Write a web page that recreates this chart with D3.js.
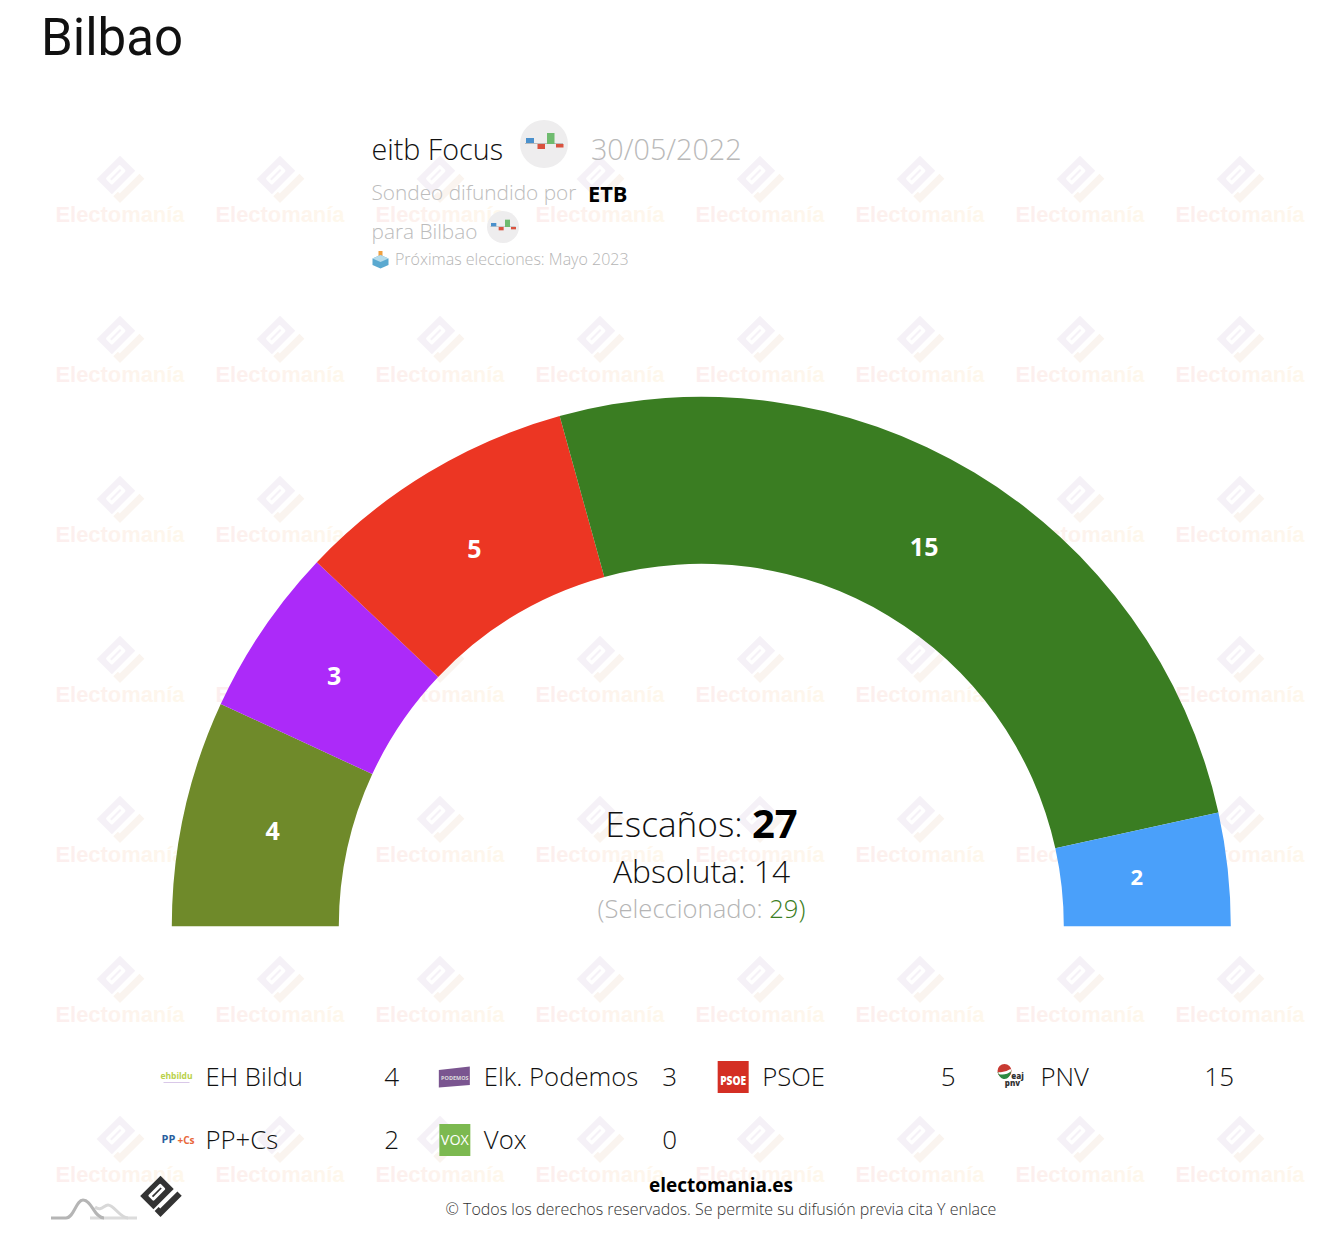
<!DOCTYPE html>
<html><head><meta charset="utf-8">
<script src="https://cdn.jsdelivr.net/npm/d3@7"></script>
<style>html,body{margin:0;padding:0;background:#fff}svg{display:block}text{font-family:"Open Sans",sans-serif;font-weight:300}</style>
</head><body><svg id="c" width="1324" height="1244"></svg>
<script>
const parties=["EH Bildu","Elk. Podemos","PSOE","PNV","PP+Cs","Vox"];
const seats=[4,3,5,15,2,0];
const colors=["#6f8a2a","#ac2af9","#ec3623","#3a7d22","#4aa0fa","#7cb950"];
const legendColumns=[0,1,2,3];
const legendRows=[0,1];
const wmColumns=[120,280,440,600,760,920,1080,1240];
const wmRows=[180,340,500,660,820,980,1140];
const totalSeats=27, majority=14, selected=29;

const W=1324,cx=701.3,cy=926.3,rO=529.5,rI=362.5;
const svg=d3.select("#c");
const defs=svg.append("defs");
const lg=defs.append("linearGradient").attr("id","wmg");
lg.append("stop").attr("offset","0").attr("stop-color","#fceeee");
lg.append("stop").attr("offset","1").attr("stop-color","#fef8ec");

// watermark
function markIcon(g,c1,c2,slot){
  const r=g.append("g").attr("transform","rotate(-45)");
  r.append("rect").attr("x",-16.5).attr("y",-16.5).attr("width",33).attr("height",21.5).attr("fill",c1);
  r.append("rect").attr("x",-10).attr("y",-10.5).attr("width",20).attr("height",9).attr("rx",1.5).attr("fill",slot);
  r.append("rect").attr("x",-7).attr("y",-7).attr("width",14).attr("height",2).attr("fill",c1);
  r.append("path").attr("d","M17.5 10H-10.5V7.5H-17V17H17.5Z").attr("fill",c2);
}
const wm=svg.append("g");
wmRows.forEach(y=>wmColumns.forEach(x=>{
  markIcon(wm.append("g").attr("transform",`translate(${x},${y-1})`),"#f5f1f7","#faf4ef","#fff");
  wm.append("text").attr("x",x).attr("y",y+42).attr("text-anchor","middle")
    .style("font-family","'Liberation Sans',sans-serif").style("font-weight",700).style("font-size","21.9px")
    .attr("fill","url(#wmg)").text("Electomanía");
}));

// title
svg.append("text").attr("x",41).attr("y",55).style("font-family","Roboto,sans-serif").style("font-weight",400).style("font-size","51px").attr("fill","#111").text("Bilbao");

function pollIcon(g,r){
  const s=r/24;
  g.append("circle").attr("r",r).attr("fill","#eeedee");
  const b=g.append("g").attr("transform",`scale(${s})`);
  b.append("rect").attr("x",-19).attr("y",-1).attr("width",38).attr("height",1).attr("fill","#bbb");
  b.append("rect").attr("x",-18).attr("y",-6).attr("width",8).attr("height",5).attr("fill","#4a90cc");
  b.append("rect").attr("x",-6.5).attr("y",0).attr("width",7.5).attr("height",5).attr("fill","#d9523f");
  b.append("rect").attr("x",3).attr("y",-11).attr("width",7.5).attr("height",11).attr("fill","#6fbb6f");
  b.append("rect").attr("x",12).attr("y",0).attr("width",7.5).attr("height",3.5).attr("fill","#d9523f");
}
function txt(x,y,size,fill,t,o={}){
  return svg.append("text").attr("x",x).attr("y",y).style("font-size",size+"px").attr("fill",fill)
    .attr("text-anchor",o.anchor||"start").style("font-weight",o.weight||300).text(t);
}
// header
txt(371.5,160,28.7,"#111","eitb Focus");
pollIcon(svg.append("g").attr("transform","translate(544,144)"),24);
txt(591,160,28.7,"#b9b9b9","30/05/2022");
txt(371.5,199.5,20.8,"#bcbcbc","Sondeo difundido por");
txt(588,202,21.8,"#000","ETB",{weight:700});
txt(371.5,239,20.8,"#bcbcbc","para Bilbao");
pollIcon(svg.append("g").attr("transform","translate(503,227)"),16);
txt(395,265,16,"#b5b5b5","Próximas elecciones: Mayo 2023");
const box=svg.append("g").attr("transform","translate(380.5,260)");
box.append("rect").attr("x",-2).attr("y",-9).attr("width",4).attr("height",6).attr("fill","#f0a040");
box.append("path").attr("d","M0 -5L8 -1.5V5L0 8.5L-8 5V-1.5Z").attr("fill","#5aa9d0");
box.append("path").attr("d","M0 -5L8 -1.5L0 2L-8 -1.5Z").attr("fill","#b5dcec");

// arc
const pie=d3.pie().value(d=>d).sort(null).startAngle(-Math.PI/2).endAngle(Math.PI/2);
const arc=d3.arc().innerRadius(rI).outerRadius(rO);
const labelArc=d3.arc().innerRadius(440).outerRadius(440);
const nudgeX=[1,-3,0,-4,-2], nudgeY=[-1,-3,0,-2.5,-1.5];
const ch=svg.append("g").attr("transform",`translate(${cx},${cy})`);
const arcs=pie(seats);
ch.selectAll("path").data(arcs).join("path").attr("d",arc).attr("fill",(d,i)=>colors[i]);
ch.selectAll("text").data(arcs.filter(d=>d.value>0)).join("text")
  .attr("transform",(d,i)=>{const c=labelArc.centroid(d);return `translate(${c[0]+nudgeX[i]},${c[1]+nudgeY[i]})`;})
  .attr("text-anchor","middle").attr("dy","0.36em")
  .attr("fill","#fff").style("font-weight",700).style("font-size",d=>d.value==2?"22px":"25px").text(d=>d.value);

// centre
const c1=txt(701.5,837,35.2,"#111","Escaños: ",{anchor:"middle"});
c1.append("tspan").style("font-weight",700).style("font-size","40px").attr("dy",1).attr("fill","#000").text(totalSeats);
txt(701.5,883,31.8,"#111","Absoluta: "+majority,{anchor:"middle"});
const c3=txt(701.5,918,25.6,"#b5b5b5","(Seleccionado: ",{anchor:"middle"});
c3.append("tspan").attr("fill","#3a7d22").text(selected);
c3.append("tspan").attr("fill","#3a7d22").text(")");

// legend
const xCol=d3.scaleLinear().domain([0,3]).range([205.5,1040.5]);
const yRow=d3.scaleLinear().domain([0,1]).range([1086,1149]);
const valX=[399,677,955.5,1234];
const logos=[
 g=>{g.append("text").attr("x",0).attr("y",2).attr("text-anchor","middle").style("font-size","8.5px").style("font-weight",700).attr("fill","#b9d14a").text("ehbildu");
     g.append("rect").attr("x",-13).attr("y",5).attr("width",26).attr("height",1).attr("fill","#d9c8e8");},
 g=>{g.append("path").attr("d","M-16 -7L15 -10.5V8L-16 10.5Z").attr("fill","#7a5590");
     g.append("text").attr("x",0).attr("y",3).attr("text-anchor","middle").style("font-size","5.5px").style("font-weight",700).attr("fill","#ddd").text("PODEMOS");},
 g=>{g.append("rect").attr("x",-15.5).attr("y",-16).attr("width",31).attr("height",32).attr("fill","#d42f24");
     g.append("text").attr("x",0).attr("y",8).attr("text-anchor","middle").attr("textLength",26).attr("lengthAdjust","spacingAndGlyphs").style("font-size","12px").style("font-weight",800).attr("fill","#fff").text("PSOE");},
 g=>{g.append("circle").attr("cx",-7).attr("cy",-6).attr("r",7).attr("fill","#c83a32");
     g.append("path").attr("d","M-14 -5Q-7 -3 0 -7Q-2 3 -8 2Q-12 1 -14 -5Z").attr("fill","#2d8a42");
     g.append("path").attr("d","M-13 -5Q-7 -4 -1 -8L0 -6Q-6 -1 -13 -3Z").attr("fill","#fff");
     g.append("text").attr("x",6).attr("y",2).attr("text-anchor","middle").style("font-size","8px").style("font-weight",800).attr("fill","#333").text("eaj");
     g.append("text").attr("x",1).attr("y",9).attr("text-anchor","middle").style("font-size","8px").style("font-weight",800).attr("fill","#333").text("pnv");},
 g=>{g.append("text").attr("x",-8).attr("y",3).attr("text-anchor","middle").style("font-size","11px").style("font-weight",700).attr("fill","#2a5f9e").text("PP");
     g.append("text").attr("x",1).attr("y",4).style("font-size","10px").style("font-weight",700).attr("fill","#e8683a").text("+Cs");},
 g=>{g.append("rect").attr("x",-15.5).attr("y",-16).attr("width",31).attr("height",32).attr("fill","#7cb950");
     g.append("text").attr("x",0).attr("y",5).attr("text-anchor","middle").attr("textLength",28).attr("lengthAdjust","spacingAndGlyphs").style("font-size","15px").style("font-weight",400).attr("fill","#fff").text("VOX");}
];
parties.forEach((p,i)=>{
  const c=i%legendColumns.length, r=Math.floor(i/legendColumns.length);
  const y=yRow(legendRows[r]), x=xCol(legendColumns[c]);
  txt(x,y,25.7,"#111",p);
  txt(valX[c],y,26,"#111",seats[i],{anchor:"end"});
  logos[i](svg.append("g").attr("transform",`translate(${x-29},${y-9})`));
});

// footer
txt(721,1191.5,19,"#000","electomania.es",{anchor:"middle",weight:700});
txt(721,1215,16,"#333","© Todos los derechos reservados. Se permite su difusión previa cita Y enlace",{anchor:"middle"});
const f=svg.append("g").attr("fill","none").attr("stroke-width",3);
f.append("path").attr("d","M90 1218H137").attr("stroke","#dcdcdc");
f.append("path").attr("d","M95 1207C101 1212 104 1205 108 1205C114 1205 120 1218 128 1218").attr("stroke","#d8d8d8");
f.append("path").attr("d","M51 1218H66C74 1218 76 1200 83 1200C92 1200 94 1218 104 1218").attr("stroke","#b5b5b5");
markIcon(svg.append("g").attr("transform","translate(160.5,1196) scale(0.87)"),"#333","#333","#fff");
</script></body></html>
